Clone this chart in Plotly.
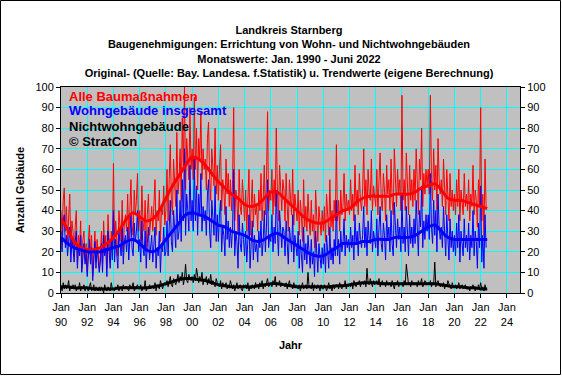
import plotly.graph_objects as go

# ---------------- data (monthly, Jan 1990 - Jun 2022) ----------------
start_year = 1990
alle = [
    40, 28, 45, 51, 30, 42, 25, 36, 48, 22, 35, 30,   # 1990
    18, 32, 40, 15, 28, 22, 35, 12, 26, 30, 16, 24,   # 1991
    10, 25, 33, 18, 28, 8, 22, 30, 15, 26, 20, 12,    # 1992
    18, 30, 14, 35, 22, 28, 12, 38, 25, 16, 30, 20,   # 1993
    63, 22, 35, 28, 18, 40, 30, 25, 45, 20, 34, 38,   # 1994
    30, 48, 25, 42, 55, 33, 28, 50, 38, 45, 58, 30,   # 1995
    40, 25, 52, 35, 30, 45, 22, 38, 48, 28, 35, 42,   # 1996
    30, 45, 55, 28, 40, 35, 50, 25, 42, 38, 52, 33,   # 1997
    40, 60, 35, 55, 72, 45, 38, 65, 50, 42, 78, 48,   # 1998
    55, 70, 45, 85, 60, 100, 50, 75, 65, 55, 90, 60,  # 1999
    70, 55, 95, 60, 80, 50, 75, 65, 88, 55, 70, 60,   # 2000
    65, 50, 75, 83, 55, 45, 70, 60, 52, 80, 48, 62,   # 2001
    45, 60, 72, 40, 55, 50, 38, 65, 48, 58, 42, 55,   # 2002
    40, 55, 90, 35, 50, 45, 30, 60, 42, 38, 55, 45,   # 2003
    35, 50, 30, 45, 60, 28, 40, 55, 32, 48, 38, 42,   # 2004
    30, 50, 40, 58, 35, 45, 62, 38, 55, 88, 40, 50,   # 2005
    45, 60, 38, 55, 42, 80, 50, 35, 62, 48, 40, 55,   # 2006
    50, 35, 58, 42, 30, 55, 45, 38, 60, 33, 48, 40,   # 2007
    35, 50, 28, 45, 38, 25, 55, 32, 42, 30, 48, 36,   # 2008
    28, 45, 30, 38, 22, 50, 32, 25, 42, 35, 28, 40,   # 2009
    30, 42, 25, 48, 35, 28, 55, 32, 40, 30, 45, 35,   # 2010
    72, 35, 45, 30, 50, 38, 42, 58, 35, 48, 40, 45,   # 2011
    38, 55, 40, 48, 35, 62, 42, 50, 38, 58, 45, 40,   # 2012
    50, 70, 42, 55, 38, 60, 48, 45, 65, 40, 52, 48,   # 2013
    42, 60, 38, 55, 68, 45, 40, 58, 50, 35, 62, 48,   # 2014
    55, 40, 65, 45, 38, 70, 50, 42, 60, 48, 55, 40,   # 2015
    96, 45, 55, 40, 68, 50, 38, 62, 45, 55, 42, 60,   # 2016
    45, 70, 50, 38, 65, 55, 80, 42, 58, 48, 60, 52,   # 2017
    60, 48, 96, 55, 45, 70, 50, 62, 40, 75, 55, 48,   # 2018
    55, 42, 65, 45, 38, 60, 48, 35, 58, 42, 50, 40,   # 2019
    48, 38, 55, 42, 60, 35, 50, 45, 38, 58, 42, 48,   # 2020
    40, 55, 35, 48, 42, 62, 38, 50, 45, 32, 55, 42,   # 2021
    90, 35, 48, 28, 65, 42,                           # 2022
]
wohn = [
    30, 20, 35, 38, 22, 28, 18, 25, 32, 15, 26, 22,
    15, 25, 30, 12, 22, 18, 28, 10, 20, 24, 14, 19,
    8, 20, 26, 14, 22, 6, 18, 25, 12, 22, 16, 10,
    15, 24, 10, 28, 18, 22, 8, 30, 20, 12, 25, 16,
    40, 15, 26, 20, 12, 30, 22, 18, 32, 14, 25, 28,
    20, 32, 16, 28, 38, 22, 18, 34, 25, 30, 40, 20,
    26, 15, 35, 22, 18, 30, 12, 24, 32, 16, 22, 28,
    15, 26, 32, 12, 22, 18, 30, 10, 24, 20, 32, 18,
    20, 35, 18, 32, 45, 25, 20, 40, 28, 22, 50, 26,
    30, 45, 25, 55, 35, 70, 28, 48, 40, 30, 62, 35,
    45, 30, 65, 35, 52, 28, 48, 38, 58, 30, 42, 35,
    40, 28, 48, 55, 30, 22, 45, 35, 28, 52, 25, 38,
    25, 38, 45, 20, 32, 28, 18, 42, 26, 35, 22, 32,
    22, 32, 60, 18, 30, 25, 12, 38, 24, 20, 34, 26,
    18, 30, 15, 26, 38, 12, 22, 35, 16, 28, 20, 24,
    15, 30, 22, 35, 18, 25, 40, 20, 32, 55, 22, 28,
    25, 38, 20, 32, 24, 50, 30, 18, 40, 28, 22, 32,
    30, 18, 35, 24, 14, 32, 26, 20, 38, 15, 28, 22,
    18, 30, 12, 26, 20, 10, 32, 16, 24, 14, 28, 20,
    12, 26, 14, 20, 8, 30, 16, 10, 24, 18, 12, 22,
    14, 24, 10, 28, 18, 12, 32, 16, 22, 14, 26, 18,
    45, 18, 26, 14, 30, 20, 24, 36, 18, 28, 22, 26,
    20, 32, 22, 28, 16, 38, 24, 30, 18, 34, 26, 22,
    28, 42, 22, 32, 18, 35, 26, 24, 40, 20, 30, 26,
    22, 36, 18, 32, 42, 24, 20, 34, 28, 16, 38, 26,
    32, 20, 40, 24, 18, 44, 28, 22, 36, 26, 32, 20,
    48, 24, 32, 20, 42, 28, 18, 38, 24, 32, 22, 36,
    24, 45, 28, 18, 40, 32, 52, 22, 35, 26, 38, 30,
    38, 26, 58, 32, 24, 45, 28, 40, 20, 48, 32, 26,
    32, 22, 42, 24, 18, 38, 26, 16, 36, 22, 30, 20,
    28, 18, 34, 22, 38, 15, 30, 24, 18, 36, 22, 28,
    20, 34, 16, 28, 22, 40, 18, 30, 25, 12, 34, 22,
    52, 15, 28, 12, 38, 22,
]
nichtwohn = [
    3, 1, 5, 2, 4, 2, 3, 6, 1, 3, 2, 4,
    2, 4, 1, 3, 2, 5, 1, 3, 2, 4, 1, 3,
    2, 1, 3, 5, 1, 2, 4, 1, 3, 2, 1, 3,
    1, 3, 2, 0, 4, 2, 1, 3, 2, 1, 5, 2,
    2, 1, 3, 2, 4, 1, 2, 3, 1, 4, 2, 3,
    3, 2, 1, 4, 2, 3, 5, 1, 2, 3, 4, 2,
    2, 4, 1, 3, 2, 6, 1, 3, 2, 4, 2, 3,
    3, 2, 5, 1, 4, 3, 2, 6, 3, 2, 4, 5,
    4, 6, 3, 5, 8, 4, 3, 7, 5, 4, 6, 9,
    5, 8, 6, 10, 4, 7, 14, 6, 5, 9, 7, 6,
    8, 5, 9, 6, 12, 7, 5, 8, 6, 10, 4, 7,
    6, 8, 4, 7, 5, 9, 4, 6, 5, 3, 7, 5,
    4, 3, 6, 2, 5, 4, 3, 5, 2, 4, 3, 6,
    3, 2, 4, 1, 3, 5, 2, 3, 4, 2, 1, 4,
    3, 4, 2, 5, 1, 3, 2, 4, 3, 2, 5, 3,
    4, 2, 5, 3, 6, 2, 4, 3, 5, 7, 3, 4,
    5, 3, 6, 4, 8, 3, 5, 4, 6, 3, 5, 4,
    4, 3, 5, 2, 4, 6, 3, 4, 2, 5, 3, 4,
    3, 2, 4, 1, 3, 5, 2, 3, 4, 2, 10, 3,
    3, 2, 5, 1, 4, 3, 2, 4, 3, 1, 4, 2,
    2, 4, 3, 1, 3, 5, 2, 3, 1, 4, 2, 3,
    3, 4, 2, 5, 3, 2, 4, 3, 6, 2, 4, 3,
    4, 3, 5, 2, 6, 4, 3, 5, 4, 6, 3, 5,
    5, 4, 6, 3, 12, 5, 4, 7, 5, 3, 6, 4,
    5, 6, 4, 7, 3, 5, 6, 4, 5, 3, 6, 4,
    4, 5, 3, 6, 4, 2, 5, 4, 6, 3, 5, 4,
    5, 3, 6, 4, 14, 8, 4, 5, 3, 6, 4, 5,
    4, 5, 3, 6, 4, 5, 7, 3, 4, 6, 5, 4,
    5, 4, 6, 3, 5, 4, 15, 3, 5, 6, 4, 3,
    4, 3, 5, 2, 4, 3, 6, 4, 3, 2, 5, 3,
    3, 4, 2, 3, 5, 2, 3, 4, 2, 3, 4, 2,
    2, 3, 1, 3, 2, 4, 2, 1, 3, 2, 4, 2,
    5, 2, 3, 1, 4, 2,
]

# trend values (half-yearly: Jan, Jul of each year 1990..2022)
trend_alle = [36, 31, 25, 22, 21, 21, 22, 24, 27, 31, 36, 39, 37, 35, 36, 40,
              46, 52, 57, 62, 66, 65, 62, 58, 54, 51, 48, 46, 43, 42, 43, 46,
              49, 49, 46, 43, 40, 37, 35, 34, 34, 36, 38, 40, 41, 44, 46, 47,
              47, 47, 47, 48, 48, 48, 49, 51, 52, 53, 50, 46, 45, 45, 44, 43,
              42, 41]
trend_wohn = [27, 24, 22, 21, 20, 20, 20, 21, 22, 23, 25, 26, 24, 21, 20, 22,
              26, 30, 34, 38, 39, 38, 37, 35, 33, 32, 30, 29, 28, 26, 25, 26,
              28, 29, 27, 25, 23, 21, 19, 18, 18, 20, 22, 24, 24, 24, 25, 25,
              26, 26, 26, 27, 27, 27, 28, 30, 32, 33, 30, 27, 26, 26, 26, 26,
              26, 26]
trend_nicht = [3, 3, 2.5, 2.5, 2.5, 2, 2, 2, 2, 2.5, 2.5, 2.5, 2.5, 2.5, 3, 3.5,
               4.5, 5.5, 6.5, 7, 7, 6.5, 6, 5, 4, 3.5, 3, 3, 3, 3, 3.5, 4,
               4.5, 4.5, 4, 3.5, 3, 3, 3, 3, 3, 3, 3.5, 3.5, 4, 4.5, 5, 5,
               5, 4.5, 4.5, 4.5, 4.5, 4.5, 4.5, 4.5, 4.5, 4.5, 4, 3.5, 3, 3,
               2.5, 2.5, 2, 2]

tick_years = list(range(1990, 2025, 2))
tick_text = ["Jan<br>%02d" % (y % 100) for y in tick_years]
y_ticks = list(range(0, 101, 10))

title_lines = ["Landkreis Starnberg",
               "Baugenehmigungen: Errichtung von Wohn- und Nichtwohngebäuden",
               "Monatswerte: Jan. 1990 - Juni 2022",
               "Original- (Quelle: Bay. Landesa. f.Statistik) u. Trendwerte (eigene Berechnung)"]
legend_labels = ["Alle Baumaßnahmen", "Wohngebäude insgesamt", "Nichtwohngebäude", "© StratCon"]

# ---------------- figure ----------------
xm = [start_year + i / 12 for i in range(len(alle))]
xt = [start_year + i / 2 for i in range(len(trend_alle))]

RED, BLUE, BLACK = "#FF0000", "#0000FF", "#000000"
FONT = "Arial, Liberation Sans, sans-serif"

fig = go.Figure()
fig.add_trace(go.Scatter(x=xm, y=alle, mode="lines", line=dict(color=RED, width=1)))
fig.add_trace(go.Scatter(x=xm, y=wohn, mode="lines", line=dict(color=BLUE, width=1)))
fig.add_trace(go.Scatter(x=xm, y=nichtwohn, mode="lines", line=dict(color=BLACK, width=1)))
fig.add_trace(go.Scatter(x=xt, y=trend_alle, mode="lines", line=dict(color=RED, width=3, shape="spline")))
fig.add_trace(go.Scatter(x=xt, y=trend_wohn, mode="lines", line=dict(color=BLUE, width=3, shape="spline")))
fig.add_trace(go.Scatter(x=xt, y=trend_nicht, mode="lines", line=dict(color=BLACK, width=3, shape="spline")))
fig.add_trace(go.Scatter(x=[start_year], y=[0], yaxis="y2", mode="markers",
                         marker=dict(opacity=0), hoverinfo="skip"))

W, H = 562, 376
L, R, T, B = 61, 42, 87, 83
pw, ph = W - L - R, H - T - B

fig.update_layout(
    width=W, height=H,
    margin=dict(l=L, r=R, t=T, b=B, pad=0, autoexpand=False),
    paper_bgcolor="white", plot_bgcolor="#C0C0C0",
    showlegend=False,
    font=dict(family=FONT, size=11, color="black"),
    title=dict(text="<br>".join("<b>%s</b>" % t for t in title_lines),
               x=(289 - L) / pw, xref="paper", xanchor="center",
               y=1 - 34 / H, yref="container", yanchor="top",
               font=dict(size=11, family=FONT, color="black")),
    xaxis=dict(range=[1990, 2025], tickvals=tick_years, ticktext=tick_text,
               showgrid=True, gridcolor="#00FFFF", gridwidth=1,
               ticks="outside", ticklen=4, tickcolor="black",
               showline=True, linecolor="black", linewidth=1, mirror=True,
               zeroline=False, tickfont=dict(size=11), automargin=False,
               title=dict(text="<b>Jahr</b>", font=dict(size=11), standoff=14)),
    yaxis=dict(range=[0, 100], tickvals=y_ticks,
               showgrid=True, gridcolor="#00FFFF", gridwidth=1,
               ticks="outside", ticklen=4, tickcolor="black",
               showline=True, linecolor="black", linewidth=1, mirror=True,
               zeroline=False, tickfont=dict(size=11), automargin=False,
               title=dict(text="<b>Anzahl Gebäude</b>", font=dict(size=11), standoff=8)),
    yaxis2=dict(range=[0, 100], tickvals=y_ticks, overlaying="y", side="right",
                showgrid=False, ticks="outside", ticklen=4, tickcolor="black",
                zeroline=False, tickfont=dict(size=11), automargin=False),
)

legend_colors = [RED, BLUE, BLACK, BLACK]
legend_y = [96, 111, 126, 141]
for t, c, yy in zip(legend_labels, legend_colors, legend_y):
    fig.add_annotation(text="<b>%s</b>" % t, xref="paper", yref="paper",
                       x=(67 - L) / pw, y=1 - (yy - T) / ph, showarrow=False,
                       xanchor="left", yanchor="middle",
                       font=dict(size=13, family=FONT, color=c))

# outer frame
fig.add_shape(type="rect", xref="paper", yref="paper", layer="above",
              x0=-(L - 0.5) / pw, x1=1 + (R - 1.5) / pw,
              y0=-(B - 1.5) / ph, y1=1 + (T - 0.5) / ph,
              line=dict(color="black", width=1))

fig.write_html("out.html", config={"displayModeBar": False},
               post_script="document.body.style.margin='0';document.body.style.overflow='hidden';")
